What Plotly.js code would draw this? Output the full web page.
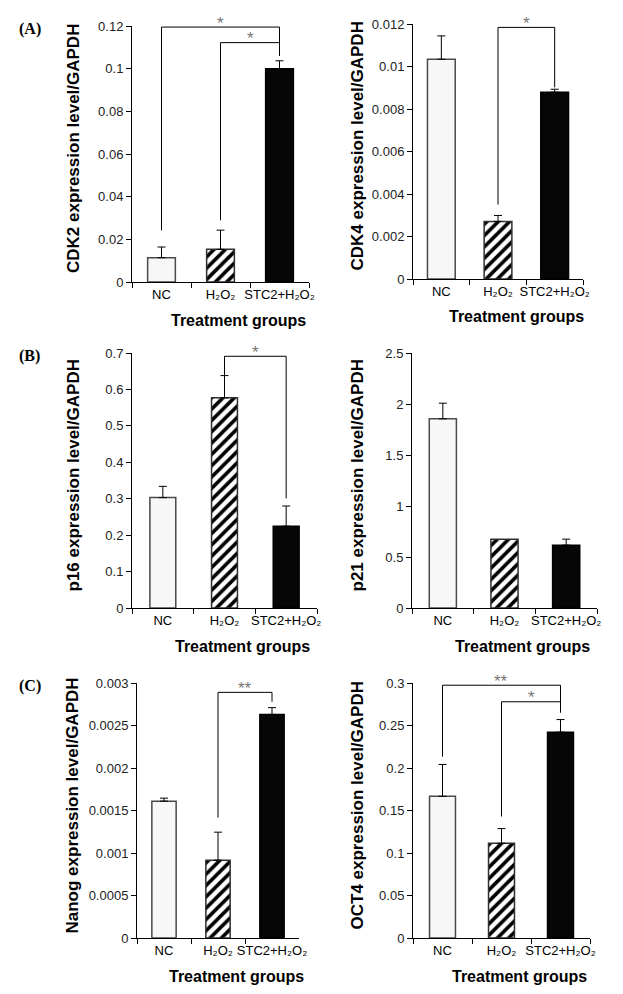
<!DOCTYPE html>
<html>
<head>
<meta charset="utf-8">
<script src="https://cdn.plot.ly/plotly-3.0.1.min.js"></script>
<style>body{margin:0;background:#fff}</style>
</head>
<body>
<div id="chart" style="width:623px;height:994px"></div>
<script>
// categories
let groups=['NC','H₂O₂','STC2+H₂O₂'];

// mean values and upper error
let cdk2=[0.0114,0.0153,0.1];
let cdk2Err=[0.005,0.009,0.0037];
let cdk4=[0.01034,0.00271,0.00879];
let cdk4Err=[0.0011,0.00028,0.00014];
let p16=[0.303,0.577,0.2245];
let p16Err=[0.031,0.061,0.0555];
let p21=[1.855,0.675,0.616];
let p21Err=[0.153,null,0.059];
let nanog=[0.00161,0.000915,0.00263];
let nanogErr=[0.000035,0.00033,0.00008];
let oct4=[0.1667,0.1115,0.2422];
let oct4Err=[0.0375,0.0172,0.0148];

// significance brackets: [from, to, top, left leg end, right leg end, label]
let cdk2Sig=[[0,2,0.1195,0.0242,0.106,'*'],[1,2,0.1122,0.0289,0.106,'*']];
let cdk4Sig=[[1,2,0.01184,0.0035,0.00902,'*']];
let p16Sig=[[1,2,0.691,0.638,0.301,'*']];
let p21Sig=[];
let nanogSig=[[1,2,0.00289,0.001416,0.00278,'**']];
let oct4Sig=[[0,2,0.2974,0.2133,0.2653,'**'],[1,2,0.2779,0.1429,0.2653,'*']];

const W=623, H=994;
let panels=[
  {vals:cdk2,err:cdk2Err,sig:cdk2Sig,title:'CDK2 expression level/GAPDH',range:0.12,dtick:0.02,px:[132,309],py:[26,282],bw:0.47,tx:59,tag:'(A)'},
  {vals:cdk4,err:cdk4Err,sig:cdk4Sig,title:'CDK4 expression level/GAPDH',range:0.012,dtick:0.002,px:[413,583],py:[24,279],bw:0.49,tx:56},
  {vals:p16,err:p16Err,sig:p16Sig,title:'p16 expression level/GAPDH',range:0.7,dtick:0.1,px:[132,317],py:[353,608],bw:0.42,tx:59,tag:'(B)'},
  {vals:p21,err:p21Err,sig:p21Sig,title:'p21 expression level/GAPDH',range:2.5,dtick:0.5,px:[412,597],py:[353,608],bw:0.44,tx:55},
  {vals:nanog,err:nanogErr,sig:nanogSig,title:'Nanog expression level/GAPDH',range:0.003,dtick:0.0005,px:[137,299],py:[683,938],bw:0.45,tx:65,tag:'(C)'},
  {vals:oct4,err:oct4Err,sig:oct4Sig,title:'OCT4 expression level/GAPDH',range:0.3,dtick:0.05,px:[413,590],py:[683,938],bw:0.44,tx:56}
];

// bar styles per group: open, hatched, solid
let fills=['#f7f7f7','#ffffff','#060606'];
let edges=['#4a4a4a','#303030','#000000'];
let hatch=['','/',''];

let traces=[];
let layout={
  width:W,height:H,
  margin:{l:0,r:0,t:0,b:0},
  paper_bgcolor:'#fff',plot_bgcolor:'#fff',
  showlegend:false,barmode:'overlay',
  font:{family:'Liberation Sans, Arial, sans-serif',color:'#000'},
  annotations:[]
};

panels.forEach(function(p,i){
  let n=i===0?'':String(i+1);
  let xa='x'+n, ya='y'+n;
  for(let j=0;j<groups.length;j++){
    let mk={color:fills[j],line:{color:edges[j],width:1.5}};
    if(hatch[j]) mk.pattern={shape:hatch[j],fgcolor:'#000',bgcolor:'#ffffff',fillmode:'replace',size:8,solidity:0.45};
    let t={
      type:'bar',x:[groups[j]],y:[p.vals[j]],xaxis:xa,yaxis:ya,width:p.bw,
      marker:mk,hoverinfo:'skip'
    };
    if(p.err[j]!==null){
      t.error_y={type:'data',symmetric:false,array:[p.err[j]],arrayminus:[0],color:'#000',thickness:1,width:4};
    }
    traces.push(t);
  }
  for(let s of p.sig){
    traces.push({
      type:'scatter',mode:'lines',xaxis:xa,yaxis:ya,
      x:[groups[s[0]],groups[s[0]],groups[s[1]],groups[s[1]]],
      y:[s[3],s[2],s[2],s[4]],
      line:{color:'#000',width:1},cliponaxis:false,hoverinfo:'skip'
    });
    layout.annotations.push({
      xref:xa,yref:ya,x:(s[0]+s[1])/2,y:s[2],text:s[5],showarrow:false,
      yanchor:'middle',yshift:4,font:{size:17,color:'#777'}
    });
  }
  layout['xaxis'+n]={
    domain:[p.px[0]/W,p.px[1]/W],anchor:ya,type:'category',range:[-0.5,2.5],
    categoryorder:'array',categoryarray:groups,
    tickson:'boundaries',ticks:'outside',ticklen:5,tickcolor:'#000',tickangle:0,
    showline:true,linecolor:'#000',linewidth:1,showgrid:false,
    tickfont:{family:'Liberation Sans Narrow, Liberation Sans, Arial',size:13,color:'#000'}
  };
  layout['yaxis'+n]={
    domain:[1-p.py[1]/H,1-p.py[0]/H],anchor:xa,range:[0,p.range],
    tick0:0,dtick:p.dtick,tickformat:'~g',ticks:'outside',ticklen:5,tickcolor:'#000',
    showline:true,linecolor:'#000',linewidth:1,showgrid:false,zeroline:false,
    tickfont:{size:13,color:'#222'}
  };
  // y-axis title, placed where the original puts it
  layout.annotations.push({
    xref:'paper',yref:'paper',x:(p.px[0]-p.tx)/W,y:1-((p.py[0]+p.py[1])/2-5)/H,
    text:'<b>'+p.title+'</b>',textangle:-90,showarrow:false,xanchor:'center',yanchor:'middle',
    font:{size:17,color:'#000'}
  });
  // x-axis title sits a little right of the axis centre in the original
  layout.annotations.push({
    xref:'paper',yref:'paper',x:(p.px[0]+p.px[1])/2/W+18/W,y:1-(p.py[1]+38)/H,
    text:'<b>Treatment groups</b>',showarrow:false,xanchor:'center',yanchor:'middle',
    font:{size:16,color:'#000'}
  });
  if(p.tag){
    layout.annotations.push({
      xref:'paper',yref:'paper',x:17/W,y:1-(p.py[0]+3)/H,text:'<b>'+p.tag+'</b>',
      showarrow:false,xanchor:'left',yanchor:'middle',
      font:{family:'Liberation Serif, Times New Roman, serif',size:16,color:'#000'}
    });
  }
});

Plotly.newPlot('chart',traces,layout,{staticPlot:true});
</script>
</body>
</html>
